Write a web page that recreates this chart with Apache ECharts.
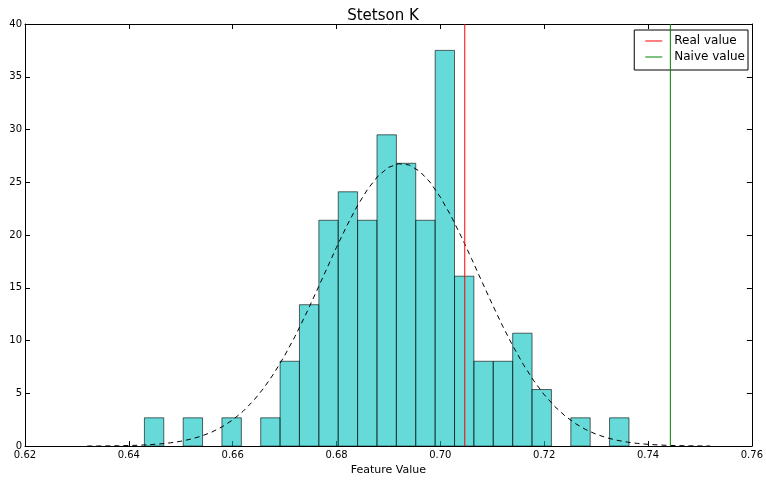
<!DOCTYPE html>
<html>
<head>
<meta charset="utf-8">
<script src="https://cdn.jsdelivr.net/npm/echarts@6/dist/echarts.min.js"></script>
<style>
html,body{margin:0;padding:0;background:#fff;}
#chart{width:766px;height:481px;}
</style>
</head>
<body>
<div id="chart"></div>
<script>
// Histogram bin edges (26 edges, 25 bins)
const binEdges = [0.64300,0.64673,0.65047,0.65420,0.65793,0.66167,0.66540,0.66913,0.67286,0.67660,
  0.68033,0.68406,0.68780,0.69153,0.69526,0.69900,0.70273,0.70646,0.71019,0.71393,
  0.71766,0.72139,0.72513,0.72886,0.73259,0.73633];
// Normalized histogram heights (density)
const binDensity = [2.68,0,2.68,0,2.68,0,2.68,8.04,13.4,21.4,24.1,21.4,29.5,26.8,21.4,37.5,16.1,8.04,8.04,10.7,5.36,0,2.68,0,2.68];
// Fitted normal curve (dashed)
const curveX = [0.632,0.634,0.636,0.638,0.640,0.642,0.644,0.646,0.648,0.650,0.652,0.654,0.656,0.658,0.660,
  0.662,0.664,0.666,0.668,0.670,0.672,0.674,0.676,0.678,0.680,0.682,0.684,0.686,0.688,0.690,0.692,0.694,
  0.696,0.698,0.700,0.702,0.704,0.706,0.708,0.710,0.712,0.714,0.716,0.718,0.720,0.722,0.724,0.726,0.728,
  0.730,0.732,0.734,0.736,0.738,0.740,0.742,0.744,0.746,0.748,0.750,0.752];
const curveY = [0.007,0.012,0.020,0.033,0.054,0.086,0.134,0.205,0.310,0.457,0.666,0.951,1.333,1.835,2.482,
  3.297,4.298,5.506,6.928,8.564,10.39,12.39,14.51,16.68,18.84,20.89,22.76,24.35,25.59,26.41,26.76,26.64,
  26.05,25.02,23.59,21.86,19.88,17.77,15.59,13.44,11.37,9.457,7.721,6.191,4.877,3.773,2.866,2.139,1.567,
  1.128,0.797,0.554,0.377,0.253,0.166,0.107,0.068,0.043,0.026,0.016,0.009];
const realValue = 0.7047;
const naiveValue = 0.7443;
const xTicks = {min:0.62, max:0.76, step:0.02};
const yTicks = {min:0, max:40, step:5};
const titleText = 'Stetson K';
const xLabel = 'Feature Value';

const FONT = 'DejaVu Sans';
const histData = binDensity.map((d,i)=>[binEdges[i], binEdges[i+1], d]);
const curveData = curveX.map((x,i)=>[x, curveY[i]]);

const chart = echarts.init(document.getElementById('chart'), null, {renderer:'canvas'});

const axisCommon = {
  axisLine:{show:true, onZero:false, lineStyle:{color:'#000', width:1}},
  axisTick:{show:true, inside:true, length:5, lineStyle:{color:'#000', width:1}},
  splitLine:{show:false}
};

chart.setOption({
  animation:false,
  backgroundColor:'#fff',
  textStyle:{fontFamily:FONT},
  title:{text:titleText, left:'center', top:4,
    textStyle:{fontFamily:FONT, fontSize:15, fontWeight:'normal', color:'#000'}},
  grid:{left:25, right:12, top:24, bottom:34, containLabel:false},
  legend:{
    right:18, top:30, orient:'vertical', align:'left',
    backgroundColor:'#fff', borderColor:'#000', borderWidth:1, borderRadius:0,
    padding:[5,3,7,11], itemGap:4, itemWidth:17, itemHeight:1,
    formatter:function(name){ return '{t|' + name + '}'; },
    textStyle:{fontFamily:FONT, fontSize:12, color:'#000',
      rich:{t:{fontFamily:FONT, fontSize:12, color:'#000', padding:[0,0,0,7]}}},
    data:[{name:'Real value', icon:'rect', itemStyle:{color:'#ff0000'}},
          {name:'Naive value', icon:'rect', itemStyle:{color:'#008000'}}]
  },
  xAxis:[
    Object.assign({type:'value', min:xTicks.min, max:xTicks.max, interval:xTicks.step, position:'bottom',
      name:xLabel, nameLocation:'middle', nameGap:18,
      nameTextStyle:{fontFamily:FONT, fontSize:11, color:'#000'},
      axisLabel:{fontFamily:FONT, fontSize:10, color:'#000', margin:4, formatter:v=>v.toFixed(2)}}, axisCommon),
    Object.assign({type:'value', min:xTicks.min, max:xTicks.max, interval:xTicks.step, position:'top',
      axisLabel:{show:false}}, axisCommon)
  ],
  yAxis:[
    Object.assign({type:'value', min:yTicks.min, max:yTicks.max, interval:yTicks.step, position:'left',
      axisLabel:{fontFamily:FONT, fontSize:10, color:'#000', margin:3}}, axisCommon),
    Object.assign({type:'value', min:yTicks.min, max:yTicks.max, interval:yTicks.step, position:'right',
      axisLabel:{show:false}}, axisCommon)
  ],
  series:[
    {
      type:'custom', name:'hist', xAxisIndex:0, yAxisIndex:0,
      encode:{x:[0,1], y:2},
      data:histData,
      renderItem:function(params, api){
        const h = api.value(2);
        if (!h) return null;
        const p0 = api.coord([api.value(0), h]);
        const p1 = api.coord([api.value(1), 0]);
        return {type:'rect',
          shape:{x:p0[0], y:p0[1], width:p1[0]-p0[0], height:p1[1]-p0[1]},
          style:{fill:'rgba(0,191,191,0.6)', stroke:'rgba(0,0,0,0.6)', lineWidth:1}};
      },
      z:2
    },
    {
      type:'line', name:'curve', data:curveData, showSymbol:false, symbol:'none', smooth:false,
      lineStyle:{color:'#000', width:1, type:[5,4]}, z:3, silent:true
    },
    {
      type:'line', name:'Real value', data:[[realValue,yTicks.min],[realValue,yTicks.max]],
      symbol:'none', lineStyle:{color:'#ff0000', width:1}, itemStyle:{color:'#ff0000'}, z:4
    },
    {
      type:'line', name:'Naive value', data:[[naiveValue,yTicks.min],[naiveValue,yTicks.max]],
      symbol:'none', lineStyle:{color:'#008000', width:1}, itemStyle:{color:'#008000'}, z:4
    }
  ]
});
</script>
</body>
</html>
